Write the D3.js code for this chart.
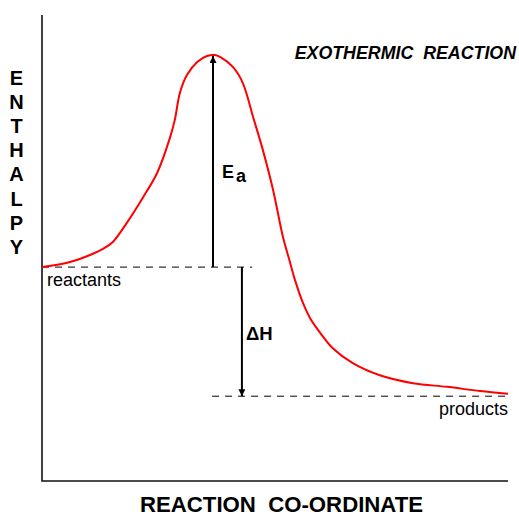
<!DOCTYPE html>
<html>
<head>
<meta charset="utf-8">
<script src="https://cdn.jsdelivr.net/npm/d3@7"></script>
<style>
  body { margin: 0; background: #fff; }
  text { font-family: "Liberation Sans", Arial, sans-serif; fill: #000; }
</style>
</head>
<body>
<script>
var w = 519, h = 517;

// reaction coordinate (0-100) vs enthalpy (0-100)
var coord = [0, 6.0, 10.3, 13.1, 15.2, 18.2, 21.7, 24.7, 27.5, 28.5, 29.6, 31.1, 33.3, 35.4, 37.1, 38.2, 41.0, 43.1, 45.3, 47.4, 49.6, 51.7, 53.2, 54.3, 56.0, 57.5, 59.7, 62.4, 66.7, 72.5, 79.6, 86.9, 94.0, 100];
var enthalpy = [45.9, 47.0, 48.5, 49.8, 51.3, 55.4, 60.9, 66.1, 73.8, 77.5, 83.3, 87.1, 89.9, 91.2, 91.4, 91.0, 88.8, 85.4, 78.1, 71.0, 62.4, 52.4, 47.0, 43.1, 38.2, 35.0, 31.8, 28.5, 25.3, 22.7, 21.0, 20.2, 19.3, 18.7];

var reactantLevel = 45.9, productLevel = 18.2, peakLevel = 91.2;
var peakCoord = 36.7, dHCoord = 42.9;
var reactantLine = [0, 45.1], productLine = [36.5, 100];
var yLetters = ["E", "N", "T", "H", "A", "L", "P", "Y"];

var x = d3.scaleLinear().domain([0, 100]).range([42, 508]);
var y = d3.scaleLinear().domain([0, 100]).range([481, 15]);

var svg = d3.select("body").append("svg")
            .attr("width", w)
            .attr("height", h);

var defs = svg.append("defs");
defs.append("marker")
    .attr("id", "head")
    .attr("viewBox", "0 0 10 10")
    .attr("refX", 10).attr("refY", 5)
    .attr("markerWidth", 10).attr("markerHeight", 7)
    .attr("markerUnits", "userSpaceOnUse")
    .attr("orient", "auto")
  .append("path")
    .attr("d", "M0,0 L10,5 L0,10 Z")
    .attr("fill", "#000");

// axes
svg.append("path")
   .attr("d", "M" + x(0) + "," + y(100) + " L" + x(0) + "," + y(0) + " L" + x(100) + "," + y(0))
   .attr("fill", "none")
   .attr("stroke", "#111")
   .attr("stroke-width", 1.6);

// dashed levels
svg.append("line")
   .attr("x1", x(reactantLine[0])).attr("x2", x(reactantLine[1]))
   .attr("y1", y(reactantLevel)).attr("y2", y(reactantLevel))
   .attr("stroke", "#000").attr("stroke-width", 1)
   .attr("stroke-dasharray", "7,6");
svg.append("line")
   .attr("x1", x(productLine[0])).attr("x2", x(productLine[1]))
   .attr("y1", y(productLevel)).attr("y2", y(productLevel))
   .attr("stroke", "#000").attr("stroke-width", 1)
   .attr("stroke-dasharray", "7,6");

// arrows
svg.append("line")
   .attr("x1", x(peakCoord)).attr("x2", x(peakCoord))
   .attr("y1", y(reactantLevel)).attr("y2", y(peakLevel))
   .attr("stroke", "#000").attr("stroke-width", 2)
   .attr("marker-end", "url(#head)");
svg.append("line")
   .attr("x1", x(dHCoord)).attr("x2", x(dHCoord))
   .attr("y1", y(reactantLevel)).attr("y2", y(productLevel))
   .attr("stroke", "#000").attr("stroke-width", 2)
   .attr("marker-end", "url(#head)");

// energy curve
var line = d3.line()
             .x(function(d) { return x(d[0]); })
             .y(function(d) { return y(d[1]); })
             .curve(d3.curveCatmullRom.alpha(0.5));
svg.append("path")
   .datum(coord.map(function(c, i) { return [c, enthalpy[i]]; }))
   .attr("d", line)
   .attr("fill", "none")
   .attr("stroke", "#f00")
   .attr("stroke-width", 2);

// labels
svg.append("text")
   .attr("x", 516).attr("y", 59)
   .attr("text-anchor", "end")
   .style("font-size", "17.8px").style("font-weight", "bold").style("font-style", "italic")
   .style("white-space", "pre")
   .text("EXOTHERMIC  REACTION");

svg.append("text")
   .attr("x", 140).attr("y", 512)
   .style("font-size", "22.2px").style("font-weight", "bold")
   .style("white-space", "pre")
   .text("REACTION  CO-ORDINATE");

svg.selectAll(".ylet")
   .data(yLetters)
   .enter()
   .append("text")
   .attr("class", "ylet")
   .attr("x", 16.5)
   .attr("y", function(d, i) { return 85 + i * 24.1; })
   .attr("text-anchor", "middle")
   .style("font-size", "20px").style("font-weight", "bold")
   .text(function(d) { return d; });

var ea = svg.append("text")
            .attr("x", 222).attr("y", 178)
            .style("font-size", "18px").style("font-weight", "bold");
ea.append("tspan").text("E");
ea.append("tspan").attr("dx", 2).attr("dy", 4).text("a");

svg.append("text")
   .attr("x", 246).attr("y", 340)
   .style("font-size", "18.5px").style("font-weight", "bold")
   .text("\u0394H");

svg.append("text")
   .attr("x", 47).attr("y", 286)
   .style("font-size", "18px")
   .text("reactants");

svg.append("text")
   .attr("x", 508).attr("y", 415)
   .attr("text-anchor", "end")
   .style("font-size", "18px")
   .text("products");
</script>
</body>
</html>
